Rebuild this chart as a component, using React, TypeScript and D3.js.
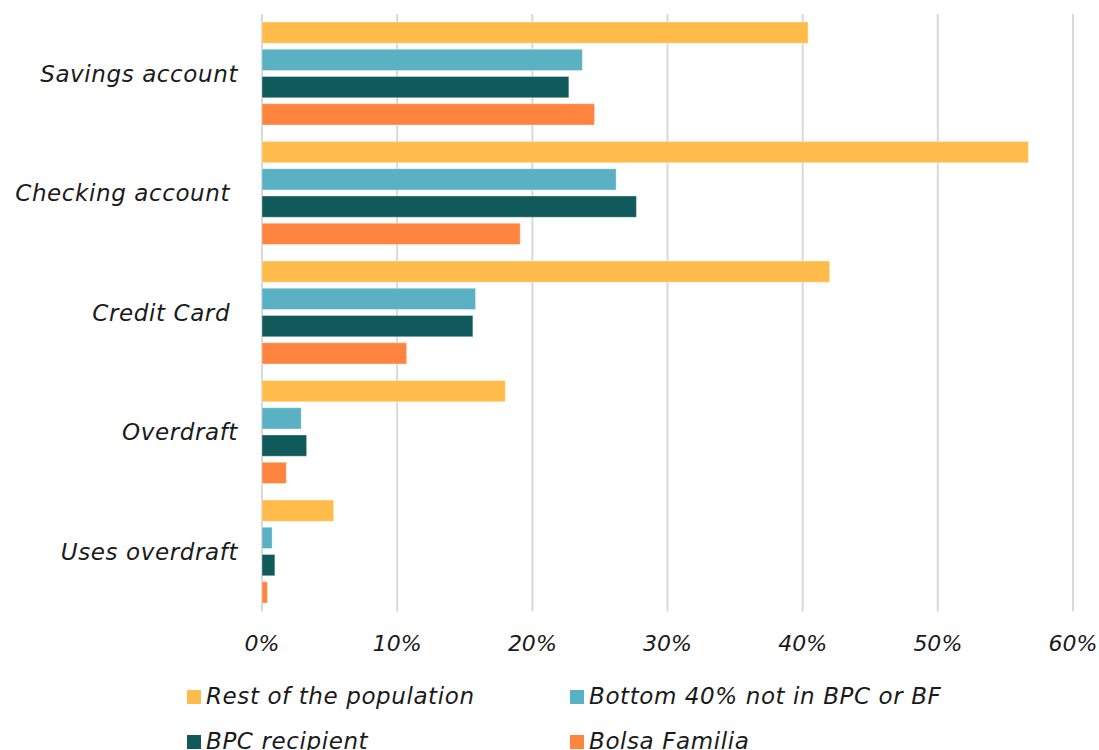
import React from "react";
import * as d3 from "d3";

const categories = ["Savings account", "Checking account ", "Credit Card ", "Overdraft", "Uses overdraft"];
const seriesNames = ["Rest of the population", "Bottom 40% not in BPC or BF", "BPC recipient", "Bolsa Familia"];
const seriesColors = ["#FFBC4A", "#59B1C3", "#115A5C", "#FF8440"];
const restOfPopulation = [40.4, 56.7, 42.0, 18.0, 5.3];
const bottom40 = [23.7, 26.2, 15.8, 2.9, 0.75];
const bpcRecipient = [22.7, 27.7, 15.6, 3.3, 0.95];
const bolsaFamilia = [24.6, 19.1, 10.7, 1.8, 0.4];
const xTicks = [0, 10, 20, 30, 40, 50, 60];

const seriesValues = [restOfPopulation, bottom40, bpcRecipient, bolsaFamilia];

export default function App() {
  const W = 1099, H = 750;
  const left = 262, right = 1073, top = 14, bottom = 611.5;
  const x = d3.scaleLinear().domain([0, 60]).range([left, right]);
  const y = d3.scaleBand().domain(categories).range([top, bottom]).paddingInner(0).paddingOuter(0);
  const inner = d3.scaleBand().domain(seriesNames).range([8, y.bandwidth() - 8.5]).paddingInner(0.22).paddingOuter(0);
  const font = "'DejaVu Sans', sans-serif";

  return (
    <svg width={W} height={H} style={{ position: "absolute", left: 0, top: 0, background: "#fff" }}>
      {xTicks.map((t) => (
        <line key={t} x1={x(t)} x2={x(t)} y1={top} y2={bottom} stroke="#d9d9d9" strokeWidth={2} />
      ))}
      {categories.map((c, i) => (
        <g key={c} transform={`translate(0,${y(c)})`}>
          {seriesNames.map((s, j) => (
            <rect
              key={s}
              x={x(0)}
              y={inner(s)}
              width={x(seriesValues[j][i]) - x(0)}
              height={inner.bandwidth()}
              fill={seriesColors[j]}
              stroke="#ffffff"
              strokeOpacity={0.35}
              strokeWidth={1}
            />
          ))}
          <text
            x={238}
            y={y.bandwidth() / 2 + 8}
            textAnchor="end"
            fontFamily={font}
            fontStyle="italic"
            fontSize={23}
            letterSpacing={0.6}
            fill="#1a1a1a"
            style={{ whiteSpace: "pre" }}
          >
            {c}
          </text>
        </g>
      ))}
      {xTicks.map((t) => (
        <text
          key={t}
          x={x(t)}
          y={651}
          textAnchor="middle"
          fontFamily={font}
          fontStyle="italic"
          fontSize={22}
          fill="#1a1a1a"
        >
          {t}%
        </text>
      ))}
      {seriesNames.map((s, j) => {
        const col = j % 2;
        const row = Math.floor(j / 2);
        const lx = col === 0 ? 187 : 570;
        const base = 704 + row * 45;
        return (
          <g key={s}>
            <rect x={lx} y={base - 14} width={14} height={14} fill={seriesColors[j]} />
            <text
              x={lx + 19}
              y={base}
              fontFamily={font}
              fontStyle="italic"
              fontSize={23}
              letterSpacing={0.6}
              fill="#1a1a1a"
            >
              {s}
            </text>
          </g>
        );
      })}
    </svg>
  );
}
